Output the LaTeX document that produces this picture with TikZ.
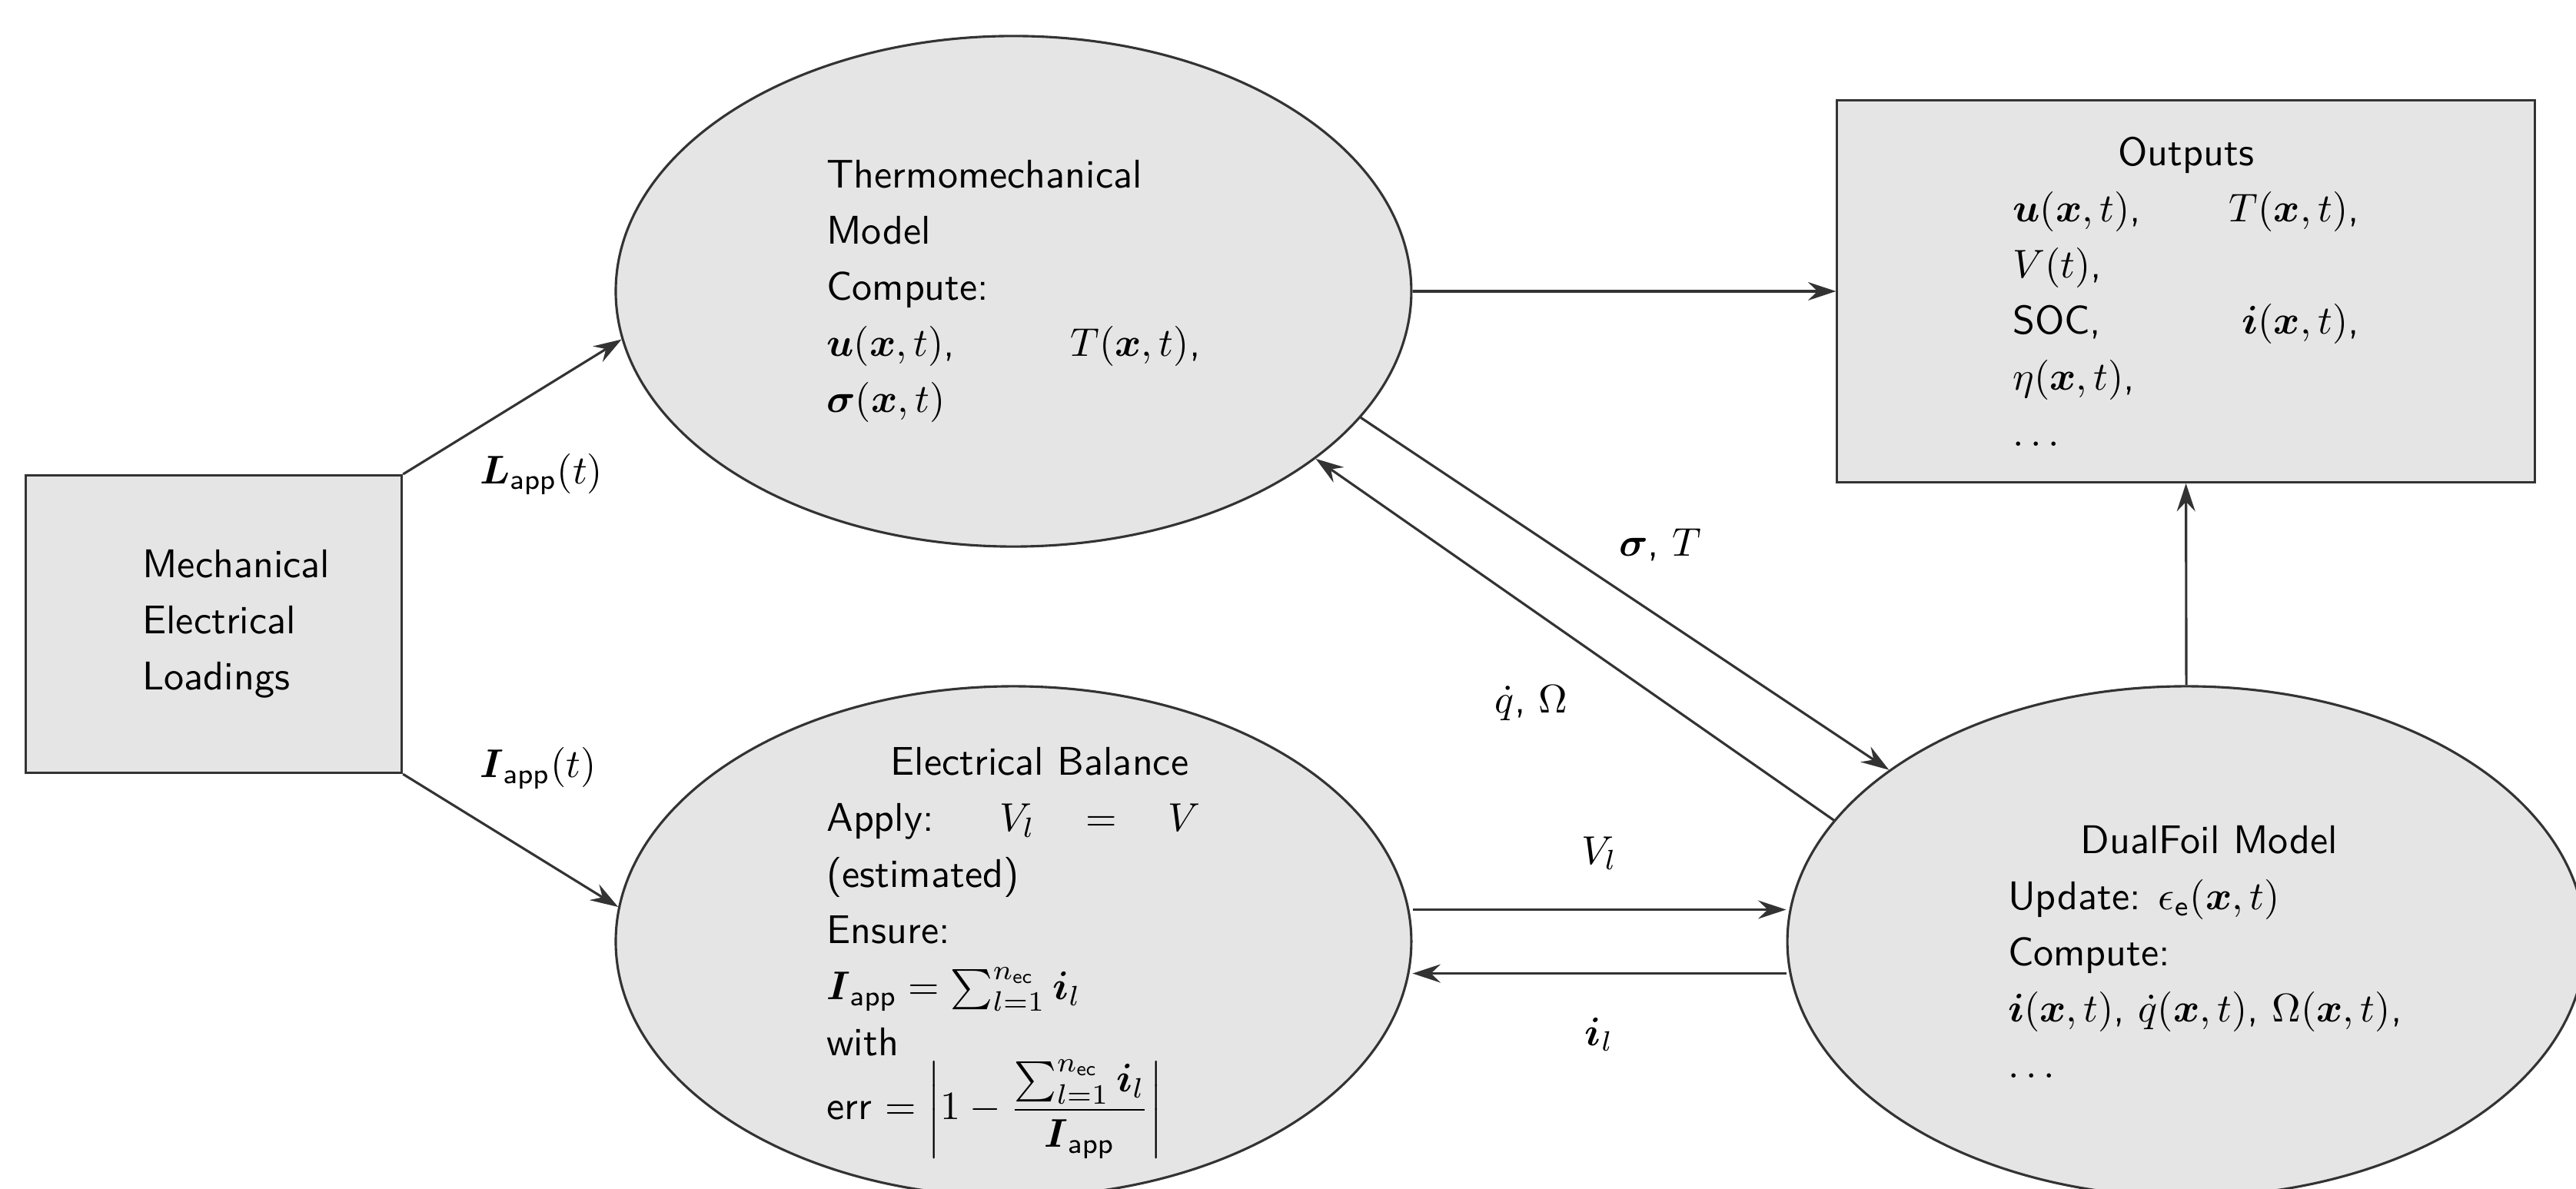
\documentclass[tikz,border=0pt]{standalone}
\usepackage{amsmath, amssymb}
\usetikzlibrary{shapes.geometric, arrows.meta, positioning}
\setlength{\parindent}{0pt}
\definecolor{FlowGray}{RGB}{51, 51, 51}
\definecolor{ShapeFill}{RGB}{229, 229, 229}

\begin{document}
\begin{tikzpicture}[
    every node/.style={font=\sffamily\fontsize{10}{14}\selectfont},
    model/.style={ellipse, draw=FlowGray, fill=ShapeFill, line width=0.6pt, minimum width=6.98cm, minimum height=4.48cm, inner sep=0pt},
    block/.style={rectangle, draw=FlowGray, fill=ShapeFill, line width=0.6pt},
    body/.style={align=justify, inner sep=0pt},
    arrow/.style={-{Stealth[length=7pt, width=4.6pt, inset=2.4pt]}, draw=FlowGray, line width=0.6pt}
  ]
    \useasboundingbox (0,0) rectangle (22.6,10.427);

    % Loadings
    \node[block, minimum width=3.30cm, minimum height=2.61cm, text width=1.25cm, align=left] (load) at (1.875,4.95) {Mechanical\\Electrical\\Loadings};

    % Models
    \node[model] (thermo) at (8.892,7.871) {};
    \node[model] (elec) at (8.892,2.165) {};
    \node[model, minimum width=7.0cm] (dual) at (19.181,2.165) {};

    \node[body, text width=3.28cm] (thermo text) at (thermo.center) {Thermomechanical\\
      Model\\
      Compute:\\
      $\boldsymbol{u}(\boldsymbol{x},t)$, \hfill $T(\boldsymbol{x},t)$,\\
      $\boldsymbol{\sigma}(\boldsymbol{x},t)$};
    \node[body, text width=3.28cm] (elec text) at ([yshift=-0.1cm]elec.center) {{\centering\hspace*{0.46cm}Electrical Balance\par}
      Apply: $V_l = V$ \linebreak (estimated)\\
      Ensure:\\
      $\boldsymbol{I}_{\mathsf{app}} = \sum_{l=1}^{n_{\mathsf{ec}}} \boldsymbol{i}_l$\\
      with\\
      err $\displaystyle = \left|1 - \frac{\sum_{l=1}^{n_{\mathsf{ec}}} \boldsymbol{i}_l}{\boldsymbol{I}_{\mathsf{app}}}\right|$};
    \node[body, text width=3.53cm] (dual text) at ([xshift=0.2cm, yshift=-0.09cm]dual.center) {{\centering DualFoil Model\par}
      Update: $\epsilon_{\mathsf{e}}(\boldsymbol{x},t)$\\
      Compute:\\
      $\boldsymbol{i}(\boldsymbol{x},t)$, $\dot{q}(\boldsymbol{x},t)$, $\Omega(\boldsymbol{x},t)$,\\
      $\dots$};

    % Outputs
    \node[block, minimum width=6.12cm, minimum height=3.35cm, text width=3.04cm, align=justify] (out) at (19.178,7.871) {{\centering Outputs\par}
      $\boldsymbol{u}(\boldsymbol{x},t)$, \hfill $T(\boldsymbol{x},t)$,\\
      $V(t)$,\\
      SOC, \hfill $\boldsymbol{i}(\boldsymbol{x},t)$,\\
      $\eta(\boldsymbol{x},t)$,\\
      $\dots$};

    % Labels of the loadings
    \node[right=0.55cm of load.north east] (lapp) {$\boldsymbol{L}_{\mathsf{app}}(t)$};
    \node[right=0.55cm of load.south east, yshift=0.05cm] (iapp) {$\boldsymbol{I}_{\mathsf{app}}(t)$};

    % Connections
    \draw[arrow] (load.north east) -- (thermo.187);
    \draw[arrow] (load.south east) -- (elec.175);
    \draw[arrow] (thermo.east) -- (out.west);
    \draw[arrow] (dual.north) -- (out.south);
    \draw[arrow] (thermo.340) -- (dual.150) node[midway, xshift=0.31cm, yshift=0.43cm] (sigT) {$\boldsymbol{\sigma}$, $T$};
    \draw[arrow] (dual.161) -- (thermo.331) node[midway, xshift=-0.38cm, yshift=-0.56cm] (qOm) {$\dot{q}$, $\Omega$};
    \draw[arrow] ([yshift=0.28cm]elec.east) -- ([yshift=0.28cm]dual.west) node[midway, above=0.22cm] (vl) {$V_l$};
    \draw[arrow] ([yshift=-0.28cm]dual.west) -- ([yshift=-0.28cm]elec.east) node[midway, below=0.26cm] (il) {$\boldsymbol{i}_l$};
  \end{tikzpicture}
\end{document}
